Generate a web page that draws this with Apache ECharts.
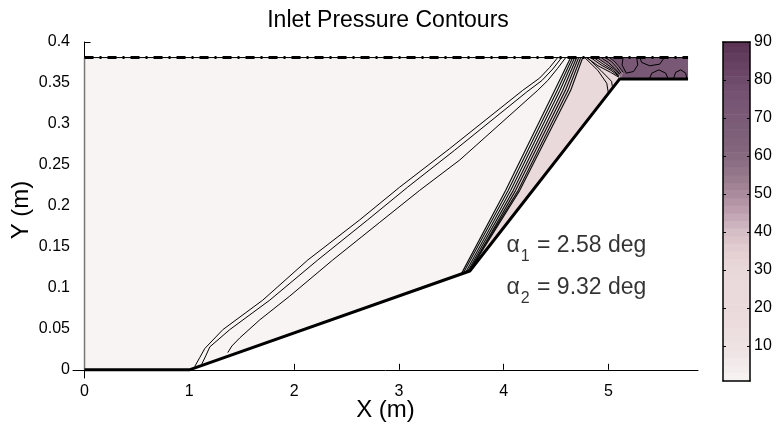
<!DOCTYPE html>
<html><head><meta charset="utf-8">
<script src="https://cdn.jsdelivr.net/npm/echarts@6/dist/echarts.min.js"></script>
<style>html,body{margin:0;padding:0;background:#fff}#c{width:778px;height:426px}</style>
</head><body><div id="c"></div>
<script>
// ---------- data ----------
const xTicks = [0, 1, 2, 3, 4, 5];
const yTicks = [0, 0.05, 0.1, 0.15, 0.2, 0.25, 0.3, 0.35, 0.4];
const cbarTicks = [10, 20, 30, 40, 50, 60, 70, 80, 90];
const cbarEdges = [0.8,3,5,7,9,11,13,15,17,19,21,23,25,27,29,31,33,35,37,39,41,43,45,47,49,51,53,55,57,59,61,63,65,67,69,71,73,75,77,79,81,83,85,87,89,90];

// inlet wall (ramp) and boundaries
const wall = [[0,0],[1,0],[3.677,0.1206],[5.108,0.355],[5.76,0.355]];
const topBoundary = [[0,0.381],[5.76,0.381]];
const leftBoundary = [[0,0],[0,0.381]];

// filled pressure regions
const regionFreestream = [[0,0],[1,0],[3.677,0.1206],[5.108,0.355],[5.76,0.355],[5.76,0.381],[0,0.381]];
const regionPostShock = [[3.657,0.120],[4.092,0.219],[4.564,0.341],[4.697,0.381],[4.79,0.381],[4.90,0.371],[5.02,0.363],[5.10,0.357],[5.108,0.355],[3.677,0.1206]];
const regionTrans1 = [[4.79,0.381],[4.89,0.381],[4.97,0.374],[5.05,0.367],[5.105,0.360],[5.10,0.357],[5.02,0.363],[4.90,0.371]];
const regionTrans2 = [[4.89,0.381],[5.01,0.381],[5.06,0.376],[5.10,0.370],[5.14,0.363],[5.12,0.357],[5.108,0.355],[5.105,0.360],[5.05,0.367],[4.97,0.374]];
const regionThroat = [[5.01,0.381],[5.76,0.381],[5.76,0.355],[5.108,0.355],[5.12,0.357],[5.14,0.363],[5.10,0.370],[5.06,0.376]];
const regions = [regionFreestream, regionPostShock, regionTrans1, regionTrans2, regionThroat];
const regionValues = [1, 27, 40, 55, 72];

// contour lines: first (weak) shock
const contourA = [[1.052,0.004],[1.100,0.015],[1.148,0.026],[1.320,0.049],[1.701,0.085],[2.131,0.134],[2.627,0.183],[3.009,0.223],[3.486,0.270],[4.182,0.341],[4.344,0.356],[4.440,0.369],[4.516,0.381]];
const contourB = [[1.119,0.007],[1.157,0.017],[1.196,0.028],[1.386,0.049],[1.768,0.085],[2.226,0.134],[2.703,0.183],[3.085,0.223],[3.533,0.268],[4.220,0.339],[4.365,0.353],[4.469,0.367],[4.554,0.381]];
const contourC = [[1.367,0.021],[1.406,0.029],[1.482,0.039],[1.673,0.061],[1.959,0.090],[2.369,0.134],[2.818,0.180],[3.199,0.219],[3.581,0.256],[4.325,0.341],[4.421,0.353],[4.516,0.368],[4.593,0.381]];
// second (strong) shock bundle
const shock1 = [[3.600,0.118],[4.020,0.219],[4.488,0.341],[4.640,0.381]];
const shock2 = [[3.619,0.119],[4.044,0.219],[4.513,0.341],[4.659,0.381]];
const shock3 = [[3.638,0.119],[4.068,0.219],[4.538,0.341],[4.678,0.381]];
const shock4 = [[3.657,0.120],[4.092,0.219],[4.564,0.341],[4.697,0.381]];
const shock5 = [[3.676,0.121],[4.115,0.219],[4.590,0.341],[4.716,0.381]];
const shock6 = [[3.686,0.124],[4.139,0.219],[4.615,0.341],[4.736,0.381]];
const shock7 = [[3.696,0.125],[4.154,0.219],[4.640,0.341],[4.755,0.381]];
// reflected lines near the cowl corner
const reflect1 = [[4.79,0.381],[4.90,0.371],[5.02,0.363],[5.10,0.357]];
const reflect2 = [[4.83,0.381],[4.93,0.372],[5.03,0.365],[5.10,0.358]];
const reflect3 = [[4.86,0.381],[4.95,0.373],[5.04,0.366],[5.10,0.359]];
const reflect4 = [[4.89,0.381],[4.97,0.374],[5.05,0.367],[5.105,0.360]];
const reflect5 = [[4.93,0.381],[5.00,0.375],[5.06,0.368],[5.11,0.361]];
const reflect6 = [[4.97,0.381],[5.03,0.376],[5.08,0.369],[5.12,0.362]];
const reflect7 = [[5.01,0.381],[5.06,0.376],[5.10,0.370],[5.14,0.363]];
const arc1 = [[4.774,0.381],[4.898,0.3655],[4.984,0.3497],[5.00,0.3375]];
const arc2 = [[4.80,0.381],[4.93,0.365],[5.03,0.352],[5.04,0.344]];
// isolated contours in the throat
const blob1 = [[5.299,0.381],[5.318,0.375],[5.394,0.371],[5.490,0.373],[5.528,0.380]];
const blob2 = [[5.394,0.356],[5.414,0.362],[5.481,0.366],[5.547,0.362],[5.566,0.356]];
const blob3 = [[5.623,0.356],[5.642,0.363],[5.690,0.366],[5.738,0.362],[5.747,0.356]];
const blob4 = [[5.14,0.381],[5.13,0.372],[5.17,0.362],[5.24,0.364],[5.28,0.372],[5.27,0.381]];

const thinContours = [contourA, contourB, contourC, reflect1, reflect2, reflect3, reflect4, reflect5, reflect6, reflect7,
  arc1, arc2, blob1, blob2, blob3, blob4];
const shockContours = [shock1, shock2, shock3, shock4, shock5, shock6, shock7];

const annotations = [
  {sub: '1', text: ' = 2.58 deg', x: 4.027, y: 0.152},
  {sub: '2', text: ' = 9.32 deg', x: 4.027, y: 0.1005}
];

const cmap = ['#f8f4f4','#f2e9ea','#eee1e2','#ecdcdd','#ebdadb','#eadadb','#e9d8d9','#e3ced2','#d4bcc5','#bea0b0',
  '#a8899b','#94778a','#86697f','#7e6079','#7a5a76','#765473','#6f4b6b','#653f61','#5a3354'];

// ---------- chart ----------
const FONT = '"Liberation Sans", Arial, Helvetica, sans-serif';
const chart = echarts.init(document.getElementById('c'), null, {renderer: 'canvas'});

function lineSeries(data, width, color, type, z) {
  return {type: 'line', data: data, xAxisIndex: 0, yAxisIndex: 0, showSymbol: false, symbol: 'none',
    silent: true, animation: false, z: z || 3,
    lineStyle: {color: color, width: width, type: type || 'solid', join: 'round'}};
}

const series = [
  {
    type: 'custom', xAxisIndex: 0, yAxisIndex: 0, silent: true, animation: false, z: 1,
    data: regionValues.map((v, i) => [v, i]),
    renderItem: function (params, api) {
      const pts = regions[api.value(1)].map(p => api.coord(p));
      return {type: 'polygon', shape: {points: pts}, style: {fill: api.visual('color'), stroke: null}};
    }
  },
  {
    type: 'custom', xAxisIndex: 1, yAxisIndex: 1, silent: true, animation: false, z: 1,
    data: cbarEdges.slice(0, -1).map((e, i) => [(e + cbarEdges[i + 1]) / 2, e, cbarEdges[i + 1]]),
    renderItem: function (params, api) {
      const p1 = api.coord([0, api.value(2)]);
      const p2 = api.coord([1, api.value(1)]);
      return {type: 'rect', shape: {x: p1[0], y: p1[1], width: p2[0] - p1[0], height: p2[1] - p1[1] + 0.5},
        style: {fill: api.visual('color')}};
    }
  }
];
thinContours.forEach(c => series.push(lineSeries(c, 1, '#000')));
shockContours.forEach(c => series.push(lineSeries(c, 1.2, '#111')));
series.push(lineSeries(leftBoundary, 1.5, '#777', 'solid', 4));
series.push(lineSeries(topBoundary, 1, '#000', 'solid', 4));
series.push(lineSeries(topBoundary, 3, '#000', [9, 6, 2, 6], 5));
series.push(lineSeries(wall, 3, '#000', 'solid', 5));
series.push({
  type: 'scatter', xAxisIndex: 0, yAxisIndex: 0, symbolSize: 0, silent: true, animation: false, z: 6,
  data: annotations.map(a => ({
    value: [a.x, a.y],
    label: {formatter: '{a|\u03b1}{s|' + a.sub + '}{t|' + a.text + '}'}
  })),
  label: {
    show: true, position: 'right', distance: 0,
    rich: {
      a: {fontSize: 23, fontFamily: FONT, color: '#000', lineHeight: 23, verticalAlign: 'top'},
      s: {fontSize: 16, fontFamily: FONT, color: '#000', lineHeight: 16, verticalAlign: 'top', padding: [15, 1, 0, 1]},
      t: {fontSize: 23, fontFamily: FONT, color: '#000', lineHeight: 23, verticalAlign: 'top'}
    }
  }
});

const axisCommon = {
  axisLine: {show: true, lineStyle: {color: '#000', width: 1}},
  splitLine: {show: false}
};

const option = {
  animation: false,
  backgroundColor: '#fff',
  textStyle: {fontFamily: FONT},
  graphic: [{type: 'text', x: 388, y: 21, style: {text: 'Inlet Pressure Contours', font: '23px ' + FONT, fill: '#000', align: 'center', verticalAlign: 'middle'}}],
  grid: [
    {left: 73, top: 42, width: 625, height: 336, outerBoundsMode: 'none', containLabel: false},
    {left: 723, top: 42, width: 27, height: 339, outerBoundsMode: 'none', containLabel: false}
  ],
  visualMap: {
    type: 'continuous', show: false, min: 0.8, max: 90, dimension: 0, seriesIndex: [0, 1],
    inRange: {color: cmap}
  },
  xAxis: [
    Object.assign({}, axisCommon, {
      gridIndex: 0, type: 'value', min: -0.11, max: 5.855, position: 'bottom',
      axisTick: {show: true, inside: true, length: 6, lineStyle: {color: '#000'}, customValues: xTicks},
      axisLabel: {show: true, customValues: xTicks, fontSize: 16, color: '#000', fontFamily: FONT, margin: 6},
      name: 'X (m)', nameLocation: 'middle', nameGap: 20, nameMoveOverlap: false,
      nameTextStyle: {fontSize: 24, color: '#000', fontFamily: FONT}
    }),
    {gridIndex: 1, type: 'value', min: 0, max: 1, position: 'bottom', z: 10,
      axisLine: {show: true, onZero: false, lineStyle: {color: '#000', width: 1.5}}, axisTick: {show: false}, axisLabel: {show: false}, splitLine: {show: false}},
    {gridIndex: 1, type: 'value', min: 0, max: 1, position: 'top', z: 10,
      axisLine: {show: true, onZero: false, lineStyle: {color: '#000', width: 1.5}}, axisTick: {show: false}, axisLabel: {show: false}, splitLine: {show: false}}
  ],
  yAxis: [
    Object.assign({}, axisCommon, {
      gridIndex: 0, type: 'value', min: -0.01, max: 0.4, position: 'left',
      axisTick: {show: true, inside: true, length: 6, lineStyle: {color: '#000'}, customValues: yTicks},
      axisLabel: {show: true, customValues: yTicks, fontSize: 16, color: '#000', fontFamily: FONT, margin: 3},
      name: 'Y (m)', nameLocation: 'middle', nameGap: 40, nameMoveOverlap: false,
      nameTextStyle: {fontSize: 24, color: '#000', fontFamily: FONT}
    }),
    {gridIndex: 1, type: 'value', min: 0.8, max: 90, position: 'right', z: 10,
      axisLine: {show: true, onZero: false, lineStyle: {color: '#000', width: 1.5}},
      axisTick: {show: true, inside: true, length: 3, lineStyle: {color: '#000'}, customValues: cbarTicks},
      axisLabel: {show: true, customValues: cbarTicks, fontSize: 16, color: '#000', fontFamily: FONT, margin: 4},
      splitLine: {show: false}},
    {gridIndex: 1, type: 'value', min: 0.8, max: 90, position: 'left', z: 10,
      axisLine: {show: true, onZero: false, lineStyle: {color: '#000', width: 1.5}},
      axisTick: {show: true, inside: true, length: 3, lineStyle: {color: '#000'}, customValues: cbarTicks},
      axisLabel: {show: false}, splitLine: {show: false}}
  ],
  series: series
};
chart.setOption(option);
</script></body></html>
